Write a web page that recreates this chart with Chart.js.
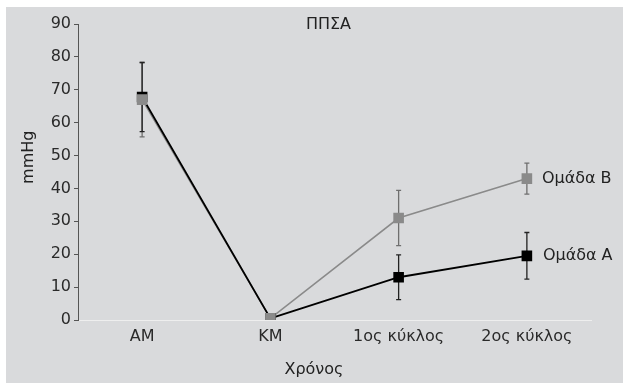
<!DOCTYPE html>
<html>
<head>
<meta charset="utf-8">
<script src="https://cdn.jsdelivr.net/npm/chart.js@4/dist/chart.umd.min.js"></script>
<style>
  html, body { margin: 0; padding: 0; background: #ffffff; }
  #wrap { position: absolute; left: 6px; top: 7px; width: 617px; height: 376px; background: #d9dadc; }
  canvas { display: block; }
</style>
</head>
<body>
<div id="wrap"><canvas id="c" width="617" height="376"></canvas></div>
<script>
// Time points and group means (mmHg) with their standard deviations
const categories = ['AM', 'KM', '1ος κύκλος', '2ος κύκλος'];
const groupA = [67.8, 0.5, 13, 19.5];
const groupAErr = [10.5, 0, 6.8, 7.1];
const groupB = [67, 0.5, 31, 43];
const groupBErr = [11.3, 0, 8.4, 4.7];
const yTicks = [0, 10, 20, 30, 40, 50, 60, 70, 80, 90];
const seriesNames = ['Ομάδα A', 'Ομάδα B'];
const chartTitle = 'ΠΠΣΑ';
const xTitle = 'Χρόνος';
const yTitle = 'mmHg';

const FONT = '"DejaVu Sans", Verdana, sans-serif';
const FONT_SIZE = 16;
const colA = '#000000';
const colB = '#8a8a8a';

// Error bars, end-of-line labels and titles drawn on the canvas
const overlay = {
  id: 'overlay',
  beforeDatasetsDraw(chart) {
    const ctx = chart.ctx;
    const xs = chart.scales.x, ys = chart.scales.y;
    const sets = [
      { v: groupB, e: groupBErr, c: '#6f6f6f' },
      { v: groupA, e: groupAErr, c: '#222222' }
    ];
    ctx.save();
    ctx.lineWidth = 1.3;
    sets.forEach(s => {
      ctx.strokeStyle = s.c;
      s.v.forEach((v, i) => {
        if (!s.e[i]) return;
        const x = xs.getPixelForValue(i);
        const yt = ys.getPixelForValue(v + s.e[i]);
        const yb = ys.getPixelForValue(v - s.e[i]);
        ctx.beginPath();
        ctx.moveTo(x, yt); ctx.lineTo(x, yb);
        ctx.moveTo(x - 2.5, yt); ctx.lineTo(x + 2.5, yt);
        ctx.moveTo(x - 2.5, yb); ctx.lineTo(x + 2.5, yb);
        ctx.stroke();
      });
    });
    ctx.restore();
  },
  afterDraw(chart) {
    const ctx = chart.ctx;
    const area = chart.chartArea;
    const xs = chart.scales.x, ys = chart.scales.y;
    const last = categories.length - 1;
    ctx.save();
    ctx.fillStyle = '#222222';
    ctx.font = FONT_SIZE + 'px ' + FONT;
    ctx.textBaseline = 'middle';
    ctx.textAlign = 'left';
    // series names at the end of each line
    ctx.fillText(seriesNames[1], xs.getPixelForValue(last) + 15, ys.getPixelForValue(groupB[last]));
    ctx.fillText(seriesNames[0], xs.getPixelForValue(last) + 16, ys.getPixelForValue(groupA[last]));
    // chart title inside the top of the plot
    ctx.textAlign = 'center';
    ctx.fillText(chartTitle, (area.left + area.right) / 2 - 6, area.top + 1);
    // axis titles
    ctx.fillText(xTitle, area.left + (area.right - area.left) * 0.46, area.bottom + 50);
    ctx.translate(22.5, area.top + (area.bottom - area.top) * 0.45);
    ctx.rotate(-Math.PI / 2);
    ctx.fillText(yTitle, 0, 0);
    ctx.restore();
  }
};

new Chart(document.getElementById('c'), {
  type: 'line',
  data: {
    labels: categories,
    datasets: [
      { // group B line, drawn underneath
        data: groupB, borderColor: colB, borderWidth: 1.5,
        pointRadius: 0, order: 3, tension: 0
      },
      { // group A line and markers
        data: groupA, borderColor: colA, backgroundColor: colA, borderWidth: 1.8,
        pointStyle: 'rect', pointRadius: 7.5, pointBorderWidth: 0, order: 2, tension: 0
      },
      { // group B markers on top
        data: groupB, showLine: false, borderColor: colB, backgroundColor: colB,
        pointStyle: 'rect', pointRadius: 7.5, pointBorderWidth: 0, order: 1
      }
    ]
  },
  options: {
    responsive: false,
    animation: false,
    events: [],
    layout: { padding: { left: 0, right: 32, top: 17, bottom: 0 } },
    plugins: { legend: { display: false }, tooltip: { enabled: false }, title: { display: false } },
    scales: {
      x: {
        offset: true,
        grid: { display: true, drawOnChartArea: false, drawTicks: false, color: 'rgba(0,0,0,0)' },
        border: { display: true, color: '#eeeeee', width: 1 },
        ticks: { color: '#2a2a2a', font: { family: FONT, size: FONT_SIZE }, padding: 7, maxRotation: 0 },
        afterFit(scale) { scale.height = 63; }
      },
      y: {
        min: 0, max: 90,
        afterBuildTicks(scale) { scale.ticks = yTicks.map(v => ({ value: v })); },
        grid: { drawOnChartArea: false, drawTicks: true, tickLength: 4, color: '#555555' },
        border: { display: true, color: '#555555', width: 1 },
        ticks: { color: '#2a2a2a', font: { family: FONT, size: FONT_SIZE }, padding: 3 },
        afterFit(scale) { scale.width = 72; }
      }
    }
  },
  plugins: [overlay]
});
</script>
</body>
</html>
